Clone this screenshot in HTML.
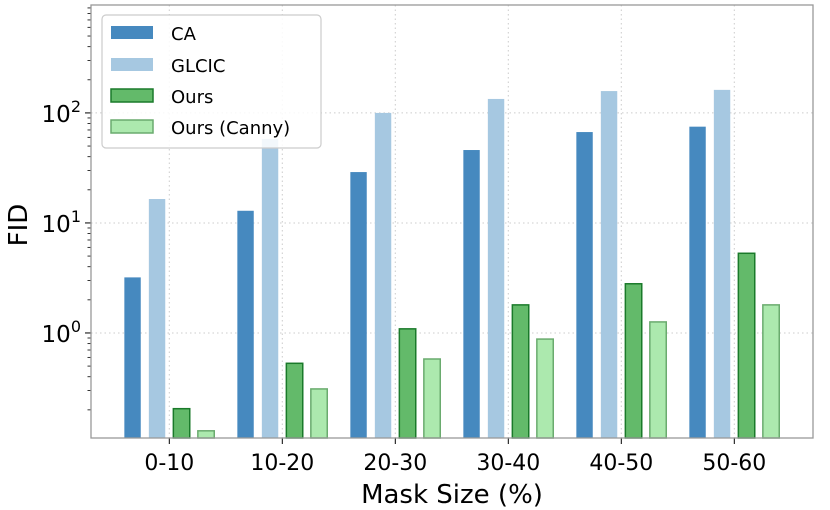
<!DOCTYPE html>
<html><head><meta charset="utf-8"><style>
body{margin:0;background:#fff}
svg{display:block;font-family:"DejaVu Sans","Liberation Sans",sans-serif}
</style></head><body>
<svg id="chart" width="830" height="510" xmlns="http://www.w3.org/2000/svg">
<g id="grid"></g>
<g id="bars"></g>
<g id="axes"></g>
<text x="0" y="0" transform="translate(27,225) rotate(-90)" text-anchor="middle" font-size="26">FID</text>
<text x="452" y="503" text-anchor="middle" font-size="26">Mask Size (%)</text>
<g>
<rect x="102" y="15" width="219" height="133" rx="4" fill="#fff" fill-opacity="0.85" stroke="#ccc" stroke-width="1.2"/>
<rect x="111" y="26" width="42" height="13" fill="#4689bf"/>
<text x="171" y="40" font-size="18">CA</text>
<rect x="111" y="58" width="42" height="13" fill="#a6c8e1"/>
<text x="171" y="72" font-size="18">GLCIC</text>
<rect x="111" y="89" width="42" height="13" fill="#63ba6a" stroke="#1a7a2a" stroke-width="1.5"/>
<text x="171" y="103" font-size="18">Ours</text>
<rect x="111" y="120" width="42" height="13" fill="#ace9ae" stroke="#6aab6e" stroke-width="1.5"/>
<text x="171" y="134" font-size="18">Ours (Canny)</text>
</g>
</svg>
<script>
var categories=["0-10","10-20","20-30","30-40","40-50","50-60"];
var caValues=[3.2,12.9,29,46,67,75];
var glcicValues=[16.5,58,100,134,158,162];
var oursValues=[0.205,0.53,1.09,1.8,2.8,5.3];
var cannyValues=[0.129,0.31,0.58,0.88,1.26,1.8];
var yMajorTicks=[1,10,100];
var yTickLabels=["0","1","2"];
var NS="http://www.w3.org/2000/svg";
var L=91,R=813,T=5,B=438,yMin=Math.log10(0.111),yMax=Math.log10(957);
function yPos(v){return B-(Math.log10(v)-yMin)/(yMax-yMin)*(B-T);}
function xPos(i){return 169.3+113*i;}
function mk(tag,attrs,parent){var e=document.createElementNS(NS,tag);for(var k in attrs)e.setAttribute(k,String(attrs[k]));parent.appendChild(e);return e;}
var grid=document.getElementById('grid'),bars=document.getElementById('bars'),axes=document.getElementById('axes');
yMajorTicks.forEach(function(t,i){
 var g=mk('line',{x1:L,x2:R,y1:yPos(t),y2:yPos(t),stroke:'#ccc','stroke-dasharray':'1.5,3','stroke-width':1},grid);
 
 
 var tk=mk('line',{x1:L-6,x2:L,y1:yPos(t),y2:yPos(t),stroke:'#000','stroke-width':1},axes);
 
 
 var tx=mk('text',{x:L-10,y:yPos(t)+9,'text-anchor':'end','font-size':23},axes);
 
 
 tx.appendChild(document.createTextNode('10'));
 var sup=mk('tspan',{dy:-10,'font-size':16},tx);
 sup.appendChild(document.createTextNode(yTickLabels[i]));
});
for(var d=-1;d<=2;d++)for(var m=2;m<=9;m++){var v=m*Math.pow(10,d);if(yPos(v)<T||yPos(v)>B)continue;
 var mt=mk('line',{x1:L-3.5,x2:L,y1:yPos(v),y2:yPos(v),stroke:'#000','stroke-width':0.8},axes);
 
 }
var series=[
 {vals:caValues,off:-36.75,fill:'#4689bf',stroke:'none',name:'bar-ca'},
 {vals:glcicValues,off:-12.25,fill:'#a6c8e1',stroke:'none',name:'bar-glcic'},
 {vals:oursValues,off:12.25,fill:'#63ba6a',stroke:'#1a7a2a',name:'bar-ours'},
 {vals:cannyValues,off:36.75,fill:'#ace9ae',stroke:'#6aab6e',name:'bar-ours-canny'}];
categories.forEach(function(c,i){
 var g=mk('line',{x1:xPos(i),x2:xPos(i),y1:T,y2:B,stroke:'#ccc','stroke-dasharray':'1.5,3','stroke-width':1},grid);
 
 
 series.forEach(function(s){var top=yPos(s.vals[i]);
  var r=mk('rect',{x:xPos(i)+s.off-8.2,y:top,width:16.4,height:B-top,fill:s.fill,stroke:s.stroke,'stroke-width':1.5},bars);
  
  });
 var tk=mk('line',{x1:xPos(i),x2:xPos(i),y1:B,y2:B+6,stroke:'#000','stroke-width':1},axes);
 
 
 var tx=mk('text',{x:xPos(i),y:B+32,'text-anchor':'middle','font-size':22},axes);
 
 
 tx.appendChild(document.createTextNode(c));
});
var fr=mk('rect',{x:L,y:T,width:R-L,height:B-T,fill:'none',stroke:'#999','stroke-width':1.3},axes);


</script>
</body></html>
